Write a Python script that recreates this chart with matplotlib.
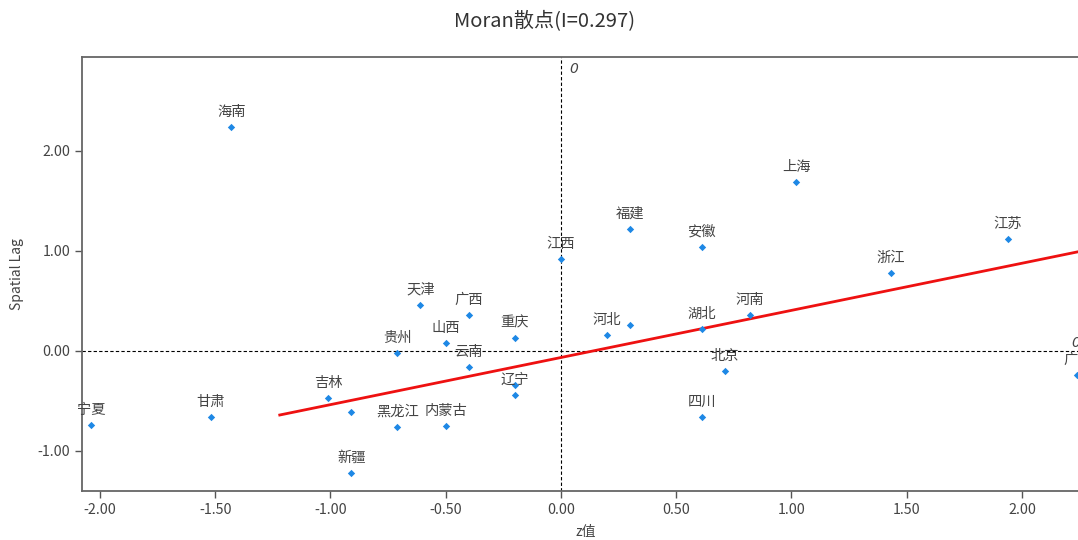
import matplotlib
matplotlib.use("Agg")
import matplotlib.pyplot as plt

plt.rcParams['font.family'] = ['Noto Sans CJK SC', 'DejaVu Sans']

# Data
names = ['海南', '上海', '福建', '安徽', '江西', '江苏', '浙江', '河南', '湖北', '河北',
         '', '北京', '四川', '广东', '天津', '广西', '重庆', '山西', '贵州', '云南',
         '辽宁', '', '吉林', '', '甘肃', '宁夏', '黑龙江', '内蒙古', '新疆']
z_values = [-1.43, 1.02, 0.30, 0.61, 0.00, 1.94, 1.43, 0.82, 0.61, 0.20,
            0.30, 0.71, 0.61, 2.24, -0.61, -0.40, -0.20, -0.50, -0.71, -0.40,
            -0.20, -0.20, -1.01, -0.91, -1.52, -2.04, -0.71, -0.50, -0.91]
lag_values = [2.24, 1.69, 1.22, 1.04, 0.92, 1.12, 0.78, 0.36, 0.22, 0.16,
              0.26, -0.20, -0.66, -0.24, 0.46, 0.36, 0.13, 0.08, -0.02, -0.16,
              -0.44, -0.34, -0.47, -0.61, -0.66, -0.74, -0.76, -0.75, -1.22]
fit_x = [-1.22, 2.26]
fit_y = [-0.64, 1.00]
x_ticks = [-2.0, -1.5, -1.0, -0.5, 0.0, 0.5, 1.0, 1.5, 2.0]
y_ticks = [-1.0, 0.0, 1.0, 2.0]
title = 'Moran散点(I=0.297)'

fig = plt.figure(figsize=(10.78, 5.40), dpi=100)
ax = fig.add_axes([82 / 1078, 49 / 540, 1 - 82 / 1078 + 0.01, (491 - 57) / 540])
ax.set_xlim(-2.078, 2.29)
ax.set_ylim(-1.40, 2.94)

ax.axvline(0, color='black', lw=0.8, ls=(0, (3, 2)), zorder=1)
ax.axhline(0, color='black', lw=0.8, ls=(0, (3, 2)), zorder=1)
ax.plot(fit_x, fit_y, color='#ee1111', lw=2, zorder=2)
ax.scatter(z_values, lag_values, marker='D', s=14, color='#1e88e5', zorder=3, linewidths=0)

for n, x, y in zip(names, z_values, lag_values):
    if n:
        ax.annotate(n, (x, y), xytext=(0, 6), textcoords='offset points',
                    ha='center', va='bottom', fontsize=10.3, color='#444444', zorder=4)

ax.text(0.035, 2.82, '0', style='italic', family='DejaVu Sans', fontsize=10,
        color='#444444', ha='left', va='center')
ax.text(2.215, 0.08, '0', style='italic', family='DejaVu Sans', fontsize=10,
        color='#444444', ha='left', va='center')

ax.set_xticks(x_ticks)
ax.set_yticks(y_ticks)
ax.set_xticklabels([f'{v:.2f}' for v in x_ticks])
ax.set_yticklabels([f'{v:.2f}' for v in y_ticks])
ax.tick_params(axis='both', labelsize=10.3, colors='#555555', labelcolor='#444444', length=5, width=1)

for s in ['left', 'bottom', 'top']:
    ax.spines[s].set_color('#666666')
    ax.spines[s].set_linewidth(1.3)
ax.spines['right'].set_visible(False)

ax.set_xlabel('z值', fontsize=10, color='#444444', labelpad=6)
ax.set_ylabel('Spatial Lag', fontsize=10, color='#444444', labelpad=10)

fig.text(545 / 1078, 1 - 22 / 540, title, ha='center', va='center', fontsize=14.5, color='#333333')

fig.savefig('out.png', dpi=100)
